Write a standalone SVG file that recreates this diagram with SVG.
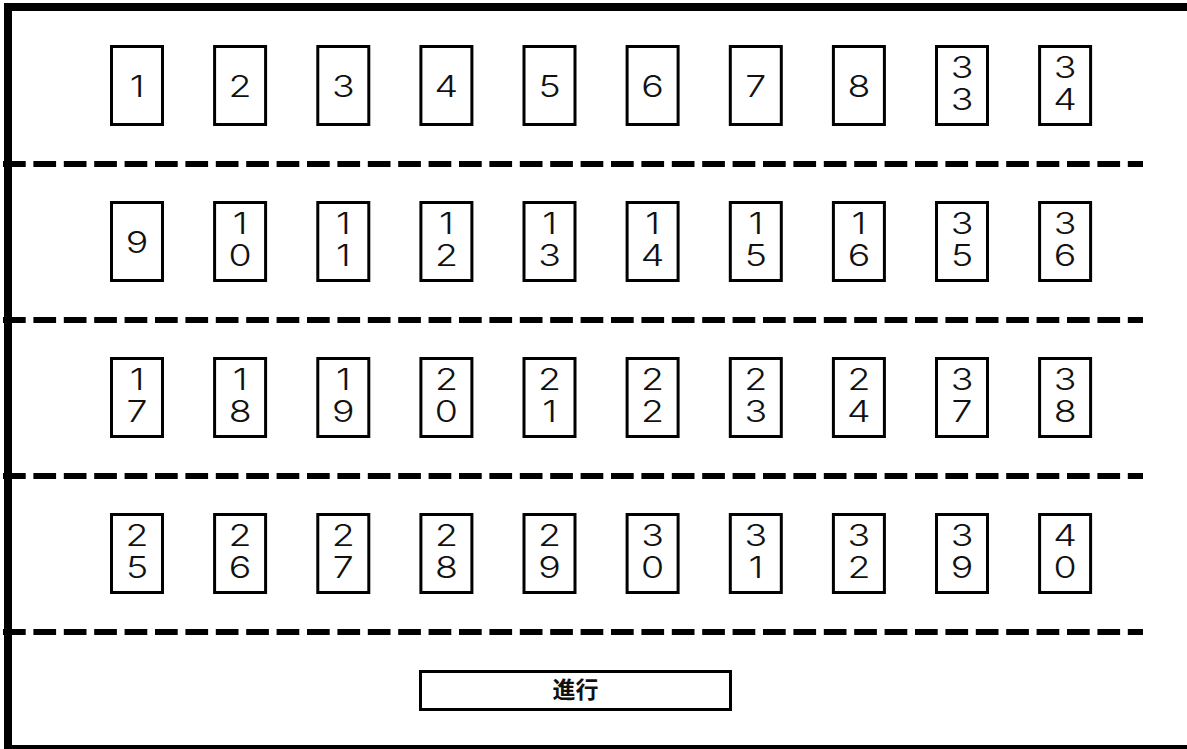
<svg xmlns="http://www.w3.org/2000/svg" width="1187" height="749" viewBox="0 0 1187 749">
<style>
.seat rect{fill:#fff;stroke:#000;stroke-width:3}
.seat text{font-family:Inter,"Liberation Sans",Arial,sans-serif;font-size:30px;font-weight:300;fill:#111;text-anchor:middle}
.sep{stroke:#000;stroke-width:6;stroke-dasharray:22.7 7.7;fill:none}
.frame{fill:none;stroke:#000;stroke-width:8}
#btn rect{fill:#fff;stroke:#000;stroke-width:3}
#btn text{font-family:"Noto Sans CJK JP","Noto Sans CJK SC",sans-serif;font-size:23px;font-weight:700;text-anchor:middle;fill:#111}
</style>
<rect width="1187" height="749" fill="#fff"/>
<path class="frame" d="M1190 7H8V749H1190"/>
<g id="connectors">
<line class="sep" x1="3" y1="164" x2="1143" y2="164"/>
<line class="sep" x1="3" y1="320" x2="1143" y2="320"/>
<line class="sep" x1="3" y1="476" x2="1143" y2="476"/>
<line class="sep" x1="3" y1="632" x2="1143" y2="632"/>
</g>
<!-- Row 1 -->
<g id="seat-1" class="seat"><rect x="111.5" y="46.5" width="51" height="78"/><text transform="matrix(1.25 0 0 1 137 0)"><tspan x="0" y="97">1</tspan></text></g>
<g id="seat-2" class="seat"><rect x="214.6" y="46.5" width="51" height="78"/><text transform="matrix(1.25 0 0 1 240.1 0)"><tspan x="0" y="97">2</tspan></text></g>
<g id="seat-3" class="seat"><rect x="317.8" y="46.5" width="51" height="78"/><text transform="matrix(1.25 0 0 1 343.3 0)"><tspan x="0" y="97">3</tspan></text></g>
<g id="seat-4" class="seat"><rect x="420.9" y="46.5" width="51" height="78"/><text transform="matrix(1.25 0 0 1 446.4 0)"><tspan x="0" y="97">4</tspan></text></g>
<g id="seat-5" class="seat"><rect x="524" y="46.5" width="51" height="78"/><text transform="matrix(1.25 0 0 1 549.5 0)"><tspan x="0" y="97">5</tspan></text></g>
<g id="seat-6" class="seat"><rect x="627.1" y="46.5" width="51" height="78"/><text transform="matrix(1.25 0 0 1 652.6 0)"><tspan x="0" y="97">6</tspan></text></g>
<g id="seat-7" class="seat"><rect x="730.3" y="46.5" width="51" height="78"/><text transform="matrix(1.25 0 0 1 755.8 0)"><tspan x="0" y="97">7</tspan></text></g>
<g id="seat-8" class="seat"><rect x="833.4" y="46.5" width="51" height="78"/><text transform="matrix(1.25 0 0 1 858.9 0)"><tspan x="0" y="97">8</tspan></text></g>
<g id="seat-33" class="seat"><rect x="936.5" y="46.5" width="51" height="78"/><text transform="matrix(1.25 0 0 1 962 0)"><tspan x="0" y="78.5">3</tspan><tspan x="0" y="110.5">3</tspan></text></g>
<g id="seat-34" class="seat"><rect x="1039.6" y="46.5" width="51" height="78"/><text transform="matrix(1.25 0 0 1 1065.1 0)"><tspan x="0" y="78.5">3</tspan><tspan x="0" y="110.5">4</tspan></text></g>
<!-- Row 2 -->
<g id="seat-9" class="seat"><rect x="111.5" y="202.5" width="51" height="78"/><text transform="matrix(1.25 0 0 1 137 0)"><tspan x="0" y="253">9</tspan></text></g>
<g id="seat-10" class="seat"><rect x="214.6" y="202.5" width="51" height="78"/><text transform="matrix(1.25 0 0 1 240.1 0)"><tspan x="0" y="234.5">1</tspan><tspan x="0" y="266.5">0</tspan></text></g>
<g id="seat-11" class="seat"><rect x="317.8" y="202.5" width="51" height="78"/><text transform="matrix(1.25 0 0 1 343.3 0)"><tspan x="0" y="234.5">1</tspan><tspan x="0" y="266.5">1</tspan></text></g>
<g id="seat-12" class="seat"><rect x="420.9" y="202.5" width="51" height="78"/><text transform="matrix(1.25 0 0 1 446.4 0)"><tspan x="0" y="234.5">1</tspan><tspan x="0" y="266.5">2</tspan></text></g>
<g id="seat-13" class="seat"><rect x="524" y="202.5" width="51" height="78"/><text transform="matrix(1.25 0 0 1 549.5 0)"><tspan x="0" y="234.5">1</tspan><tspan x="0" y="266.5">3</tspan></text></g>
<g id="seat-14" class="seat"><rect x="627.1" y="202.5" width="51" height="78"/><text transform="matrix(1.25 0 0 1 652.6 0)"><tspan x="0" y="234.5">1</tspan><tspan x="0" y="266.5">4</tspan></text></g>
<g id="seat-15" class="seat"><rect x="730.3" y="202.5" width="51" height="78"/><text transform="matrix(1.25 0 0 1 755.8 0)"><tspan x="0" y="234.5">1</tspan><tspan x="0" y="266.5">5</tspan></text></g>
<g id="seat-16" class="seat"><rect x="833.4" y="202.5" width="51" height="78"/><text transform="matrix(1.25 0 0 1 858.9 0)"><tspan x="0" y="234.5">1</tspan><tspan x="0" y="266.5">6</tspan></text></g>
<g id="seat-35" class="seat"><rect x="936.5" y="202.5" width="51" height="78"/><text transform="matrix(1.25 0 0 1 962 0)"><tspan x="0" y="234.5">3</tspan><tspan x="0" y="266.5">5</tspan></text></g>
<g id="seat-36" class="seat"><rect x="1039.6" y="202.5" width="51" height="78"/><text transform="matrix(1.25 0 0 1 1065.1 0)"><tspan x="0" y="234.5">3</tspan><tspan x="0" y="266.5">6</tspan></text></g>
<!-- Row 3 -->
<g id="seat-17" class="seat"><rect x="111.5" y="358.5" width="51" height="78"/><text transform="matrix(1.25 0 0 1 137 0)"><tspan x="0" y="390.5">1</tspan><tspan x="0" y="422.5">7</tspan></text></g>
<g id="seat-18" class="seat"><rect x="214.6" y="358.5" width="51" height="78"/><text transform="matrix(1.25 0 0 1 240.1 0)"><tspan x="0" y="390.5">1</tspan><tspan x="0" y="422.5">8</tspan></text></g>
<g id="seat-19" class="seat"><rect x="317.8" y="358.5" width="51" height="78"/><text transform="matrix(1.25 0 0 1 343.3 0)"><tspan x="0" y="390.5">1</tspan><tspan x="0" y="422.5">9</tspan></text></g>
<g id="seat-20" class="seat"><rect x="420.9" y="358.5" width="51" height="78"/><text transform="matrix(1.25 0 0 1 446.4 0)"><tspan x="0" y="390.5">2</tspan><tspan x="0" y="422.5">0</tspan></text></g>
<g id="seat-21" class="seat"><rect x="524" y="358.5" width="51" height="78"/><text transform="matrix(1.25 0 0 1 549.5 0)"><tspan x="0" y="390.5">2</tspan><tspan x="0" y="422.5">1</tspan></text></g>
<g id="seat-22" class="seat"><rect x="627.1" y="358.5" width="51" height="78"/><text transform="matrix(1.25 0 0 1 652.6 0)"><tspan x="0" y="390.5">2</tspan><tspan x="0" y="422.5">2</tspan></text></g>
<g id="seat-23" class="seat"><rect x="730.3" y="358.5" width="51" height="78"/><text transform="matrix(1.25 0 0 1 755.8 0)"><tspan x="0" y="390.5">2</tspan><tspan x="0" y="422.5">3</tspan></text></g>
<g id="seat-24" class="seat"><rect x="833.4" y="358.5" width="51" height="78"/><text transform="matrix(1.25 0 0 1 858.9 0)"><tspan x="0" y="390.5">2</tspan><tspan x="0" y="422.5">4</tspan></text></g>
<g id="seat-37" class="seat"><rect x="936.5" y="358.5" width="51" height="78"/><text transform="matrix(1.25 0 0 1 962 0)"><tspan x="0" y="390.5">3</tspan><tspan x="0" y="422.5">7</tspan></text></g>
<g id="seat-38" class="seat"><rect x="1039.6" y="358.5" width="51" height="78"/><text transform="matrix(1.25 0 0 1 1065.1 0)"><tspan x="0" y="390.5">3</tspan><tspan x="0" y="422.5">8</tspan></text></g>
<!-- Row 4 -->
<g id="seat-25" class="seat"><rect x="111.5" y="514.5" width="51" height="78"/><text transform="matrix(1.25 0 0 1 137 0)"><tspan x="0" y="546.5">2</tspan><tspan x="0" y="578.5">5</tspan></text></g>
<g id="seat-26" class="seat"><rect x="214.6" y="514.5" width="51" height="78"/><text transform="matrix(1.25 0 0 1 240.1 0)"><tspan x="0" y="546.5">2</tspan><tspan x="0" y="578.5">6</tspan></text></g>
<g id="seat-27" class="seat"><rect x="317.8" y="514.5" width="51" height="78"/><text transform="matrix(1.25 0 0 1 343.3 0)"><tspan x="0" y="546.5">2</tspan><tspan x="0" y="578.5">7</tspan></text></g>
<g id="seat-28" class="seat"><rect x="420.9" y="514.5" width="51" height="78"/><text transform="matrix(1.25 0 0 1 446.4 0)"><tspan x="0" y="546.5">2</tspan><tspan x="0" y="578.5">8</tspan></text></g>
<g id="seat-29" class="seat"><rect x="524" y="514.5" width="51" height="78"/><text transform="matrix(1.25 0 0 1 549.5 0)"><tspan x="0" y="546.5">2</tspan><tspan x="0" y="578.5">9</tspan></text></g>
<g id="seat-30" class="seat"><rect x="627.1" y="514.5" width="51" height="78"/><text transform="matrix(1.25 0 0 1 652.6 0)"><tspan x="0" y="546.5">3</tspan><tspan x="0" y="578.5">0</tspan></text></g>
<g id="seat-31" class="seat"><rect x="730.3" y="514.5" width="51" height="78"/><text transform="matrix(1.25 0 0 1 755.8 0)"><tspan x="0" y="546.5">3</tspan><tspan x="0" y="578.5">1</tspan></text></g>
<g id="seat-32" class="seat"><rect x="833.4" y="514.5" width="51" height="78"/><text transform="matrix(1.25 0 0 1 858.9 0)"><tspan x="0" y="546.5">3</tspan><tspan x="0" y="578.5">2</tspan></text></g>
<g id="seat-39" class="seat"><rect x="936.5" y="514.5" width="51" height="78"/><text transform="matrix(1.25 0 0 1 962 0)"><tspan x="0" y="546.5">3</tspan><tspan x="0" y="578.5">9</tspan></text></g>
<g id="seat-40" class="seat"><rect x="1039.6" y="514.5" width="51" height="78"/><text transform="matrix(1.25 0 0 1 1065.1 0)"><tspan x="0" y="546.5">4</tspan><tspan x="0" y="578.5">0</tspan></text></g>
<g id="btn"><rect x="420.5" y="671.5" width="310" height="38"/><text x="575.5" y="698">進行</text></g>
</svg>
